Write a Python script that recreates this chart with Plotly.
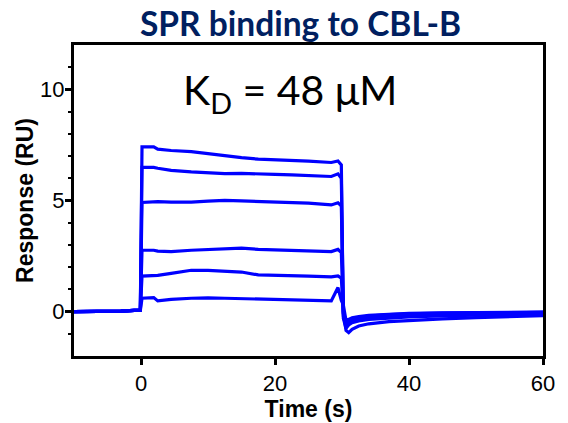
import plotly.graph_objects as go

# ---- data ----
time_s = [-10, -6, -3, -1, -0.1, 0.15, 1.9, 2.5, 4.5, 7.5, 10, 12.5, 15, 17.5, 20,
          22.5, 25, 28.4, 29.4, 29.9, 30.2, 30.6, 31.0, 31.5, 32.5, 34, 37, 40,
          45, 50, 55, 60]

resp_1 = [0, 0, 0.02, 0.05, 0.05, 7.41, 7.41, 7.31, 7.25, 7.2, 7.1, 7.01, 6.93, 6.86,
          6.84, 6.81, 6.77, 6.71, 6.78, 6.6,
          -0.3, -0.75, -0.6, -0.5, -0.42, -0.35, -0.28, -0.24, -0.2, -0.16, -0.13, -0.1]
resp_2 = [0, 0, 0.02, 0.05, 0.05, 6.49, 6.49, 6.45, 6.36, 6.29, 6.25, 6.21, 6.22, 6.21,
          6.18, 6.15, 6.12, 6.08, 6.2, 6.0,
          -0.2, -0.65, -0.5, -0.42, -0.35, -0.28, -0.2, -0.16, -0.13, -0.1, -0.08, -0.07]
resp_3 = [0, 0, 0.02, 0.05, 0.05, 4.91, 4.95, 4.95, 4.93, 4.93, 4.97, 5.01, 4.98, 4.95,
          4.93, 4.91, 4.88, 4.8, 4.9, 4.75,
          -0.1, -0.55, -0.42, -0.35, -0.3, -0.24, -0.17, -0.12, -0.09, -0.07, -0.05, -0.04]
resp_4 = [0, 0, 0.02, 0.05, 0.05, 2.76, 2.76, 2.72, 2.7, 2.76, 2.8, 2.85, 2.86, 2.8,
          2.78, 2.76, 2.74, 2.7, 2.8, 2.65,
          -0.05, -0.85, -0.95, -0.8, -0.65, -0.55, -0.45, -0.4, -0.33, -0.27, -0.22, -0.18]
resp_5 = [0, 0, 0.02, 0.05, 0.05, 1.6, 1.6, 1.63, 1.72, 1.86, 1.85, 1.83, 1.78, 1.65,
          1.64, 1.63, 1.6, 1.56, 1.6, 1.5,
          0.0, -0.5, -0.4, -0.32, -0.26, -0.2, -0.14, -0.1, -0.07, -0.05, -0.04, -0.03]
resp_6 = [0, 0, 0.02, 0.05, 0.05, 0.6, 0.63, 0.48, 0.55, 0.6, 0.62, 0.6, 0.58, 0.55,
          0.53, 0.52, 0.5, 0.48, 1.08, 0.5,
          0.3, -0.4, -0.35, -0.28, -0.22, -0.17, -0.12, -0.08, -0.06, -0.04, -0.03, -0.02]

series = [resp_1, resp_2, resp_3, resp_4, resp_5, resp_6]

x_ticks = [0, 20, 40, 60]
y_ticks = [0, 5, 10]
y_minor = [-1, 1, 2, 3, 4, 6, 7, 8, 9, 11]

title_text = "SPR binding to CBL-B"
kd_text = "K<sub>D</sub> = 48 \u03bcM"

# ---- figure ----
fig = go.Figure()
for s in series:
    fig.add_trace(go.Scatter(x=time_s, y=s, mode="lines",
                             line=dict(color="#0000FF", width=3.2),
                             showlegend=False, hoverinfo="skip"))

axis_font = dict(family="Liberation Sans, Arial, sans-serif", size=22, color="black")
title_font = dict(family="Liberation Sans, Arial, sans-serif", size=23, color="black")

fig.update_layout(
    width=568, height=423,
    margin=dict(l=74, r=25, t=45, b=67),
    paper_bgcolor="white", plot_bgcolor="white",
    showlegend=False,
    xaxis=dict(range=[-10, 60], tickvals=x_ticks, ticktext=[str(v) for v in x_ticks],
               ticks="outside", ticklen=6, tickwidth=2.5, tickcolor="black",
               showline=True, linecolor="black", linewidth=3, mirror=True,
               showgrid=False, zeroline=False, tickfont=axis_font, automargin=False,
               title=dict(text="<b>Time (s)</b>", standoff=6, font=title_font)),
    yaxis=dict(range=[-2, 12], tickvals=y_ticks, ticktext=[str(v) for v in y_ticks],
               ticks="outside", ticklen=6, tickwidth=2.5, tickcolor="black",
               ticklabelstandoff=-4,
               minor=dict(tickvals=y_minor, ticks="outside",
                          ticklen=3, tickwidth=2, tickcolor="black"),
               showline=True, linecolor="black", linewidth=3, mirror=True,
               showgrid=False, zeroline=False, tickfont=axis_font, automargin=False,
               title=dict(text="<b>Response (RU)</b>", standoff=1, font=title_font)),
)

fig.add_annotation(text="<b>" + title_text + "</b>", xref="paper", yref="paper",
                   x=(300 - 74) / 469, y=(356 - 23) / 311, xanchor="center", yanchor="middle",
                   showarrow=False,
                   font=dict(family="Lato, Open Sans, sans-serif", size=33.5, color="#002060"))

fig.add_annotation(text=kd_text, xref="paper", yref="paper",
                   x=(290 - 74) / 469, y=(356 - 92) / 311, xanchor="center", yanchor="middle",
                   showarrow=False,
                   font=dict(family="Lato, Open Sans, sans-serif", size=41, color="black"))

fig.write_html("out.html", config={"displayModeBar": False},
               post_script="document.body.style.margin='0px';document.body.style.overflow='hidden';")
